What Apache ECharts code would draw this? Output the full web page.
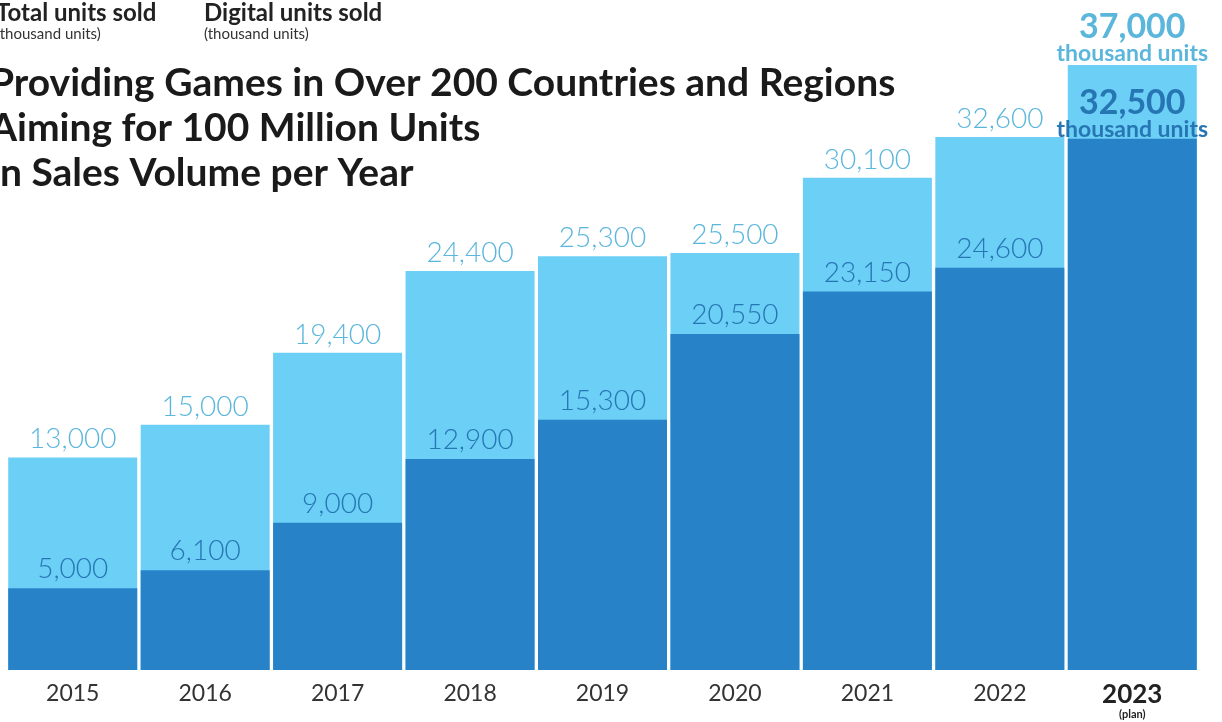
<!DOCTYPE html>
<html><head><meta charset="utf-8">
<script src="https://cdn.jsdelivr.net/npm/echarts@6/dist/echarts.min.js"></script>
<style>html,body{margin:0;padding:0;background:#fff}#c{width:1222px;height:722px}</style>
</head><body><div id="c"></div>
<script>
const years = ['2015','2016','2017','2018','2019','2020','2021','2022','2023'];
const totalUnits = [13000,15000,19400,24400,25300,25500,30100,32600,37000];
const digitalUnits = [5000,6100,9000,12900,15300,20550,23150,24600,32500];
const planIndex = 8;
const titleLines = ['Providing Games in Over 200 Countries and Regions','Aiming for 100 Million Units','in Sales Volume per Year'];

const FONT = 'Lato, "Open Sans", sans-serif';
const LIGHT = '#6BCFF6', DARK = '#2882C8';
const LIGHT_TXT = '#5BB6DC', DARK_TXT = '#2776B4';
const fmt = v => v.toLocaleString('en-US');

function build(values, isTotal){
  return values.map((v,i)=>{
    if(i!==planIndex) return v;
    return {value:v, label:{
      formatter: p => '{b|'+fmt(p.value)+'}\n{s|thousand units}',
      distance: isTotal ? -1 : -3,
      rich:{
        b:{fontSize:34,fontWeight:'bold',fontFamily:FONT,color:isTotal?LIGHT_TXT:DARK_TXT,lineHeight:30},
        s:{fontSize:23,fontWeight:'bold',fontFamily:FONT,color:isTotal?LIGHT_TXT:DARK_TXT,lineHeight:24}
      }
    }};
  });
}

const chart = echarts.init(document.getElementById('c'));
chart.setOption({
  animation:false,
  grid:{left:6.5,right:23.5,top:16,bottom:52},
  xAxis:{type:'category',data:years,
    axisLine:{show:false},axisTick:{show:false},
    axisLabel:{margin:12,color:'#333',fontSize:23,fontFamily:FONT,
      formatter:(v,i)=> i===planIndex ? '{pb|'+v+'}\n{pl|(plan)}' : v,
      rich:{pb:{fontSize:26,fontWeight:'bold',color:'#222',fontFamily:FONT,lineHeight:25},
            pl:{fontSize:11,fontWeight:'bold',color:'#222',fontFamily:FONT,lineHeight:14}}
    }},
  yAxis:{type:'value',min:0,max:40000,show:false,splitLine:{show:false}},
  series:[
    {type:'bar',name:'Total units sold',data:build(totalUnits,true),barWidth:129,barGap:'-100%',
      itemStyle:{color:LIGHT},z:1,
      label:{show:true,position:'top',distance:4,color:LIGHT_TXT,fontSize:28,fontWeight:300,fontFamily:FONT,formatter:p=>fmt(p.value)}},
    {type:'bar',name:'Digital units sold',data:build(digitalUnits,false),barWidth:129,
      itemStyle:{color:DARK},z:2,
      label:{show:true,position:'top',distance:5,color:DARK_TXT,fontSize:28,fontWeight:300,fontFamily:FONT,formatter:p=>fmt(p.value)}}
  ],
  graphic:[
    {type:'text',left:-4,top:1,style:{text:'Total units sold',font:'bold 24px '+FONT,fill:'#222'}},
    {type:'text',left:-4,top:27,style:{text:'(thousand units)',font:'15px '+FONT,fill:'#333'}},
    {type:'text',left:204,top:1,style:{text:'Digital units sold',font:'bold 24px '+FONT,fill:'#222'}},
    {type:'text',left:204,top:27,style:{text:'(thousand units)',font:'15px '+FONT,fill:'#333'}},
    {type:'text',left:-10,top:61,style:{text:titleLines.join('\n'),font:'bold 39px '+FONT,fill:'#1a1a1a',lineHeight:45}}
  ]
});
</script></body></html>
